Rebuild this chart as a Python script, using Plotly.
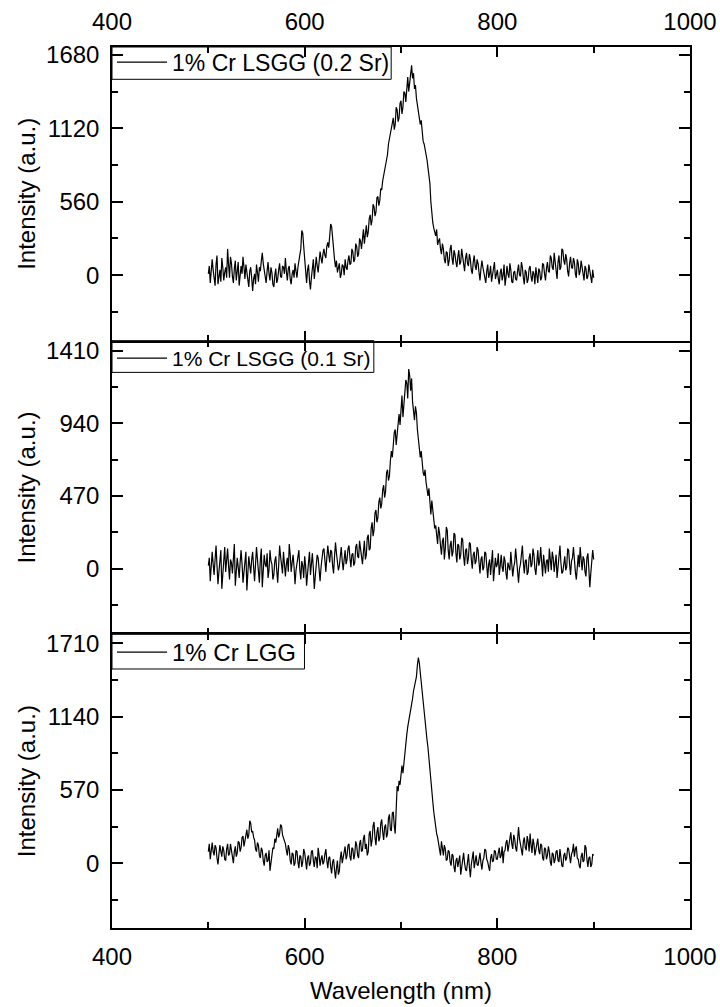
import plotly.graph_objects as go

# Wavelength grid (nm), 1 nm sampling
wavelength = list(range(500, 901))

# 1% Cr LSGG (0.2 Sr)
lsgg_02 = [
    10, 70, -60, 30, 120, 40, -30, -80, 80, 150, -70, 10, 40, -50, 130, 60, -40, 20, 60, -20,
    200, 80, -20, 140, 90, -10, -60, 50, 110, -40, 30, 100, -80, -10, 70, 10, 140, 60, -30, 80,
    20, -40, -90, 30, 60, -20, -120, -30, 10, -70, 80, 20, -50, 60, 30, 110, 170, 90, 40, -30,
    -60, 30, 100, 10, -40, 60, 20, -70, -90, 0, 50, -60, -30, 40, 90, -10, -20, 70, 60, 10,
    130, 30, -40, 50, 70, -30, -70, 10, 40, -20, 90, 30, -20, 60, 110, 150, 200, 340, 320, 220,
    120, 20, -60, 40, 80, -40, -110, -20, 60, 120, -30, 50, 140, 70, 20, 100, 180, 130, 90, 160,
    200, 150, 130, 220, 250, 210, 300, 390, 370, 260, 190, 120, 60, 110, 20, 70, 90, -20, 10, 80,
    70, 0, 120, 60, 40, 110, 150, 80, 90, 200, 180, 100, 120, 240, 220, 140, 160, 280, 260, 200,
    300, 350, 240, 310, 380, 290, 330, 430, 460, 380, 420, 540, 520, 450, 480, 590, 600, 530, 570, 660,
    650, 720, 760, 830, 860, 900, 920, 1000, 1040, 1090, 1120, 1180, 1200, 1110, 1150, 1280, 1260, 1170, 1200, 1310,
    1330, 1230, 1280, 1400, 1390, 1320, 1440, 1510, 1400, 1480, 1560, 1600, 1500, 1540, 1420, 1450, 1350, 1300, 1260, 1200,
    1150, 1180, 1080, 1020, 1000, 960, 950, 880, 820, 760, 700, 560, 430, 400, 360, 320, 300, 350, 230, 260,
    280, 200, 160, 240, 200, 120, 90, 180, 170, 70, 110, 200, 230, 130, 80, 190, 160, 100, 60, 140,
    190, 80, 100, 200, 140, 60, 30, 130, 170, 90, 70, 160, 120, 40, 10, 100, 150, 70, 40, 120,
    90, 20, -40, 50, 110, 60, 20, -30, -60, 30, 80, -20, 10, 70, -50, 0, 60, 100, -30, 20,
    40, -30, -70, 20, 50, -40, 0, 80, -80, -20, 70, 10, -20, 90, 40, -50, -60, 20, 30, -30,
    -40, 30, 80, 0, -10, 100, 60, -20, -70, 40, 20, -60, -30, 50, 70, -10, -50, 30, 10, -70,
    60, 0, -60, 50, 30, -40, -20, 90, 80, 10, -40, 50, 100, 30, 20, 150, 130, 60, 40, 170,
    90, 20, -30, 100, 150, 40, 60, 200, 190, 110, 80, 160, 120, 30, -10, 90, 140, 60, 50, 130,
    100, 10, -20, 120, 90, 0, 30, 110, 60, -10, -40, 70, 50, -30, -10, 80, 30, -40, -60, 40,
    -20,
]

# 1% Cr LSGG (0.1 Sr)
lsgg_01 = [
    20, 70, -80, 10, 110, 30, -40, 60, 150, 20, -100, -20, 60, 120, -130, -40, 90, 140, -20, 50,
    130, 20, -70, 60, 40, -30, 100, 160, -110, -40, 70, 10, -60, 40, 120, 30, -90, -20, 30, 110,
    -140, -50, 80, 20, -30, 60, 110, 10, -80, 30, 140, 60, -20, -90, 60, 130, -120, -30, 90, 30,
    10, 100, -60, -10, 120, 50, 30, -70, -40, 50, 80, -10, -90, 20, 150, 80, 40, -30, 110, 20,
    -50, 30, 70, -20, 160, 90, -20, 40, 90, 10, -100, -10, 40, 100, 120, -10, -70, 50, 20, -60,
    80, 20, -110, -30, 50, 110, -40, 30, 100, 0, -130, -50, 30, 90, 70, -20, -80, 10, 60, 120,
    130, 50, -20, 70, 150, 90, 40, 120, 110, 20, -30, 80, 170, 100, 60, -10, 20, 110, 140, 50,
    -10, 60, 120, 30, 60, 130, 150, 70, 10, 90, 100, 20, 40, 140, 160, 80, 70, 180, 120, 50,
    30, 110, 180, 60, 90, 200, 220, 120, 130, 260, 300, 210, 250, 360, 380, 300, 330, 430, 460, 390,
    420, 510, 540, 460, 500, 620, 640, 570, 600, 700, 760, 720, 820, 880, 900, 800, 870, 960, 1000, 930,
    1060, 1120, 980, 1080, 1130, 1220, 1200, 1100, 1290, 1250, 1150, 1230, 1080, 1000, 960, 1050, 1010, 900, 850, 780,
    720, 760, 680, 620, 600, 640, 560, 500, 470, 520, 400, 350, 440, 380, 320, 260, 280, 200, 160, 270,
    230, 150, 90, 180, 200, 60, 130, 270, 250, 120, 60, 150, 180, 80, 110, 230, 220, 100, 40, 160,
    150, 60, 90, 200, 190, 80, 20, 120, 130, 30, 70, 170, 160, 60, 0, 90, 110, 30, 50, 140,
    120, 40, -30, 60, 80, -10, 10, 110, 100, 20, -60, 30, 60, -40, 20, 120, -80, -20, 70, 10,
    30, 100, -40, 20, 90, 10, -20, 80, 50, -30, -70, 40, 20, -10, 110, 50, -50, 10, 40, 130,
    70, -10, -90, 0, 30, 90, 150, 40, -30, 50, 60, -40, -20, 70, 100, 10, 30, 130, 90, 0,
    -40, 40, 120, 20, 50, 140, 10, -50, 90, 30, -30, 50, 60, -20, 130, 60, -10, 110, 70, -20,
    20, 90, -60, 20, 100, 150, 40, -30, -20, 60, 80, -10, 10, 130, 120, 30, -40, 50, 70, 140,
    30, -20, -70, 50, 90, 10, 140, 60, -10, 80, 60, -20, -50, 70, 100, 0, -120, -30, 40, 120,
    60,
]

# 1% Cr LGG
lgg = [
    90, 150, 30, 80, 160, 90, 60, 140, 120, 40, -10, 70, 140, 90, 50, 130, 100, 30, 20, 110,
    150, 60, 70, 150, 110, 40, 0, 90, 130, 50, 80, 170, 160, 90, 120, 200, 210, 130, 170, 240,
    260, 190, 220, 330, 310, 240, 250, 200, 180, 110, 90, 160, 140, 60, 40, 120, 100, 20, -20, 60,
    80, 10, 20, 100, -60, 0, 50, 120, 110, 190, 160, 240, 270, 200, 230, 300, 290, 220, 200, 170,
    150, 100, 60, 140, 110, 20, -10, 80, 70, -20, 0, 100, 90, 10, -40, 60, 50, -30, 10, 110,
    80, 20, -50, 40, 60, -20, 0, 90, 100, 20, -30, 50, 40, -40, 120, 60, -20, 30, 60, -10,
    10, 70, 110, 20, -40, 40, 50, -30, -80, 10, 30, -50, -120, -40, 20, -90, -60, 40, 90, 0,
    40, 100, 130, 30, 60, 140, 150, 50, 20, 120, 110, 30, 70, 170, 140, 60, 40, 150, 180, 90,
    100, 190, 220, 110, 150, 60, 90, 230, 250, 130, 180, 290, 320, 200, 140, 240, 280, 170, 200, 310,
    340, 240, 180, 280, 300, 200, 230, 350, 380, 260, 250, 390, 400, 290, 230, 420, 600, 560, 640, 610,
    720, 760, 700, 790, 830, 920, 1000, 1060, 1100, 1170, 1200, 1250, 1280, 1340, 1370, 1420, 1450, 1540, 1600, 1560,
    1480, 1400, 1300, 1220, 1150, 1100, 1020, 960, 900, 800, 720, 640, 560, 480, 400, 330, 280, 230, 200, 150,
    120, 60, 170, 90, 60, 140, 110, 20, 30, 100, 90, 10, -20, 70, 60, -30, -70, 20, 40, -30,
    10, 60, -90, -20, 50, 80, 0, -50, -60, 20, 70, -30, -110, -10, 30, 90, -40, 20, 60, -10,
    -20, 30, 80, 0, -50, 20, 40, 110, 100, 30, 10, -30, -60, 40, 70, 10, 20, 100, 90, 30,
    30, 80, 120, 40, 60, 130, 0, 90, 100, 160, 180, 90, 130, 200, 240, 150, 110, 220, 190, 120,
    90, 180, 280, 190, 150, 100, 60, 170, 200, 120, 100, 210, 170, 90, 230, 140, 80, 190, 150, 60,
    110, 160, 190, 100, 70, 150, 140, 40, 20, 120, 110, 30, 60, 130, 90, 10, -20, 80, 70, 0,
    30, 90, 100, 20, 10, 110, 60, -20, -30, 60, 80, 20, 40, 120, 110, 30, 0, 70, 90, 150,
    50, 110, 130, 40, 30, -20, -40, 50, 80, 10, 20, 140, 120, 30, -30, 40, 50, -30, -10, 70,
    60,
]

names = ["1% Cr LSGG (0.2 Sr)", "1% Cr LSGG (0.1 Sr)", "1% Cr LGG"]
series = [lsgg_02, lsgg_01, lgg]
y_ranges = [[-500, 1740], [-424, 1474], [-505, 1781]]
y_majors = [[0, 560, 1120, 1680], [0, 470, 940, 1410], [0, 570, 1140, 1710]]
y_minor_steps = [280, 235, 285]

FONT = "Arial, Liberation Sans, sans-serif"
TICK_SIZE = 24
TITLE_SIZE = 24
LEGEND_SIZES = [23, 21, 24]
domains = [[2 / 3, 1.0], [1 / 3, 2 / 3], [0.0, 1 / 3]]
# legend frame (fraction of each panel) and small upward nudge of legend text
legend_box_w = [0.483, 0.453, 0.333]
legend_box_h = [0.110, 0.108, 0.118]
legend_nudge = [0.0072, 0.003, 0.005]

fig = go.Figure()
for i, (name, vals) in enumerate(zip(names, series)):
    sfx = "" if i == 0 else str(i + 1)
    fig.add_trace(go.Scatter(
        x=wavelength, y=vals, mode="lines", name=name,
        line=dict(color="black", width=1.2),
        xaxis="x" + sfx, yaxis="y" + sfx,
        legend="legend" + sfx, showlegend=True,
    ))

layout = dict(
    width=720, height=1007,
    margin=dict(l=112, r=30, t=47, b=79, autoexpand=False),
    paper_bgcolor="white", plot_bgcolor="white",
    font=dict(family=FONT, size=TICK_SIZE, color="black"),
    showlegend=True,
    shapes=[],
)

for i in range(3):
    sfx = "" if i == 0 else str(i + 1)
    xa = dict(
        domain=[0, 1], anchor="y" + sfx, range=[400, 1000],
        tick0=400, dtick=200, ticks="inside", ticklen=10, tickwidth=1.5,
        tickcolor="black",
        minor=dict(ticks="inside", ticklen=6, dtick=100, tickwidth=1.5, tickcolor="black"),
        showline=True, linewidth=1.5, linecolor="black", mirror="allticks",
        showgrid=False, zeroline=False, automargin=False,
        tickfont=dict(family=FONT, size=TICK_SIZE),
        ticklabelstandoff=6,
    )
    if i == 0:
        xa["side"] = "top"
    elif i == 1:
        xa["showticklabels"] = False
        xa["showline"] = False
    else:
        xa["side"] = "bottom"
        xa["title"] = dict(text="Wavelength (nm)", font=dict(family=FONT, size=TITLE_SIZE), standoff=14)
    ya = dict(
        domain=domains[i], anchor="x" + sfx, range=y_ranges[i],
        tickvals=y_majors[i], ticks="inside", ticklen=11, tickwidth=1.5,
        tickcolor="black",
        minor=dict(ticks="inside", ticklen=6, tick0=0, dtick=y_minor_steps[i],
                   tickwidth=1.5, tickcolor="black"),
        showline=True, linewidth=1.5, linecolor="black", mirror="allticks",
        showgrid=False, zeroline=False, automargin=False,
        tickfont=dict(family=FONT, size=TICK_SIZE),
        ticklabelstandoff=6,
        title=dict(text="Intensity (a.u.)", font=dict(family=FONT, size=TITLE_SIZE), standoff=4),
    )
    layout["xaxis" + sfx] = xa
    layout["yaxis" + sfx] = ya
    layout["legend" + sfx] = dict(
        x=0, y=domains[i][1] + legend_nudge[i], xref="paper", yref="paper",
        xanchor="left", yanchor="top", visible=True,
        borderwidth=0, bgcolor="rgba(0,0,0,0)",
        font=dict(family=FONT, size=LEGEND_SIZES[i]),
        itemwidth=50, tracegroupgap=0,
    )
    layout["shapes"].append(dict(
        type="rect", xref="x" + sfx + " domain", yref="y" + sfx + " domain",
        x0=0, x1=legend_box_w[i], y0=1 - legend_box_h[i], y1=1,
        line=dict(color="black", width=1), fillcolor="white", layer="below",
    ))

fig.update_layout(**layout)
fig.write_html("out.html")
